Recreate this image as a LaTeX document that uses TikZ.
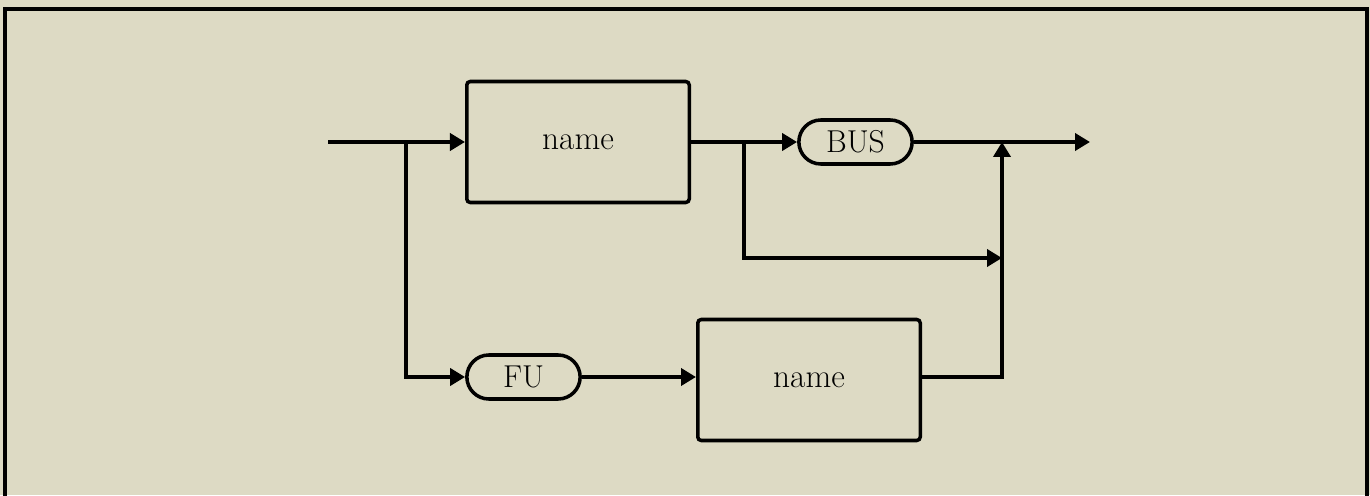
\documentclass[tikz,border=0pt]{standalone}
\usepackage{xcolor}
\usetikzlibrary{arrows.meta,positioning,shapes.misc}
\definecolor{paper}{RGB}{221,218,196}

\begin{document}
\begin{tikzpicture}[
  box/.style={draw, rectangle, rounded corners=2pt, minimum width=4.45cm,
              minimum height=2.42cm, line width=2pt, font=\fontsize{19}{21}\selectfont},
  pill/.style={draw, rounded rectangle, minimum width=2.5cm,
               minimum height=0.88cm, line width=2pt, font=\fontsize{18}{20}\selectfont},
  ln/.style={line width=2.2pt},
  arr/.style={ln, -{Triangle[length=3mm,width=3.4mm]}}
]
  \useasboundingbox[fill=paper] (0,0) rectangle (27.4,9.9);
  % frame, runs off the bottom edge
  \draw[line width=2pt] (0.1,-0.2) -- (0.1,9.72) -- (27.34,9.72) -- (27.34,-0.2);

  \node[box]  (name1) at (11.56,7.06) {name};
  \node[pill] (bus)   at (17.11,7.06) {BUS};
  \node[pill] (fu)    at (10.47,2.36) {FU};
  \node[box]  (name2) at (16.18,2.30) {name};

  \coordinate (start) at (6.56,7.06);
  \coordinate (split1) at (8.12,7.06);
  \coordinate (split2) at (14.88,7.06);
  \coordinate (join) at (20.04,7.06);
  \coordinate (joinmid) at (20.04,4.74);
  \coordinate (end) at (21.8,7.06);

  % upper path
  \draw[arr] (start) -- (name1.west);
  \draw[arr] (name1.east |- split2) -- (bus.west);
  \draw[arr] (bus.east) -- (end);

  % bypass of BUS
  \draw[arr] (split2) |- (joinmid);

  % lower path
  \draw[arr] (split1) |- (fu.west);
  \draw[arr] (fu.east) -- (name2.west |- fu.east);
  \draw[arr] (name2.east |- fu.east) -| (join);
\end{tikzpicture}
\end{document}
